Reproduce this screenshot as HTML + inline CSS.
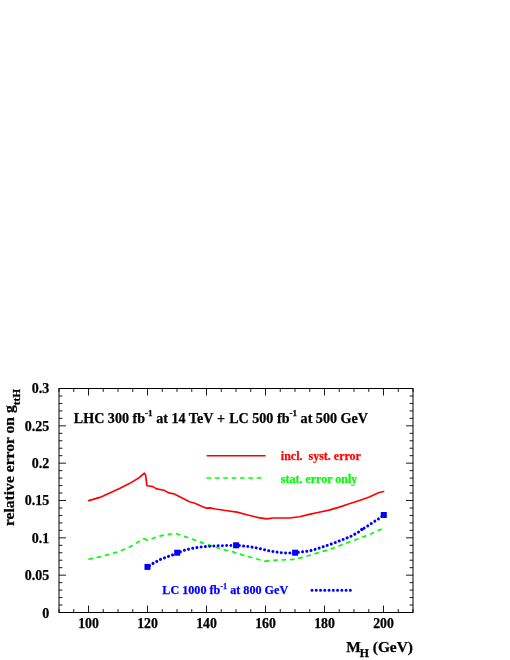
<!DOCTYPE html>
<html><head><meta charset="utf-8"><title>plot</title>
<style>
html,body{margin:0;padding:0;background:#fff;}
svg{display:block;will-change:transform;}
text{font-family:"Liberation Serif",serif;font-weight:bold;stroke:#000;stroke-width:0.25px;}
.t{font-size:13.8px;fill:#000;}
</style></head><body>
<svg width="510" height="660" viewBox="0 0 510 660">
<rect width="510" height="660" fill="#fff"/>
<rect x="59.0" y="388.5" width="354.0" height="224.0" fill="none" stroke="#000" stroke-width="1"/>
<path d="M59.00,612.5 v-3.4 M59.00,388.5 v3.4 M73.75,612.5 v-3.4 M73.75,388.5 v3.4 M88.50,612.5 v-7 M88.50,388.5 v7 M103.25,612.5 v-3.4 M103.25,388.5 v3.4 M118.00,612.5 v-3.4 M118.00,388.5 v3.4 M132.75,612.5 v-3.4 M132.75,388.5 v3.4 M147.50,612.5 v-7 M147.50,388.5 v7 M162.25,612.5 v-3.4 M162.25,388.5 v3.4 M177.00,612.5 v-3.4 M177.00,388.5 v3.4 M191.75,612.5 v-3.4 M191.75,388.5 v3.4 M206.50,612.5 v-7 M206.50,388.5 v7 M221.25,612.5 v-3.4 M221.25,388.5 v3.4 M236.00,612.5 v-3.4 M236.00,388.5 v3.4 M250.75,612.5 v-3.4 M250.75,388.5 v3.4 M265.50,612.5 v-7 M265.50,388.5 v7 M280.25,612.5 v-3.4 M280.25,388.5 v3.4 M295.00,612.5 v-3.4 M295.00,388.5 v3.4 M309.75,612.5 v-3.4 M309.75,388.5 v3.4 M324.50,612.5 v-7 M324.50,388.5 v7 M339.25,612.5 v-3.4 M339.25,388.5 v3.4 M354.00,612.5 v-3.4 M354.00,388.5 v3.4 M368.75,612.5 v-3.4 M368.75,388.5 v3.4 M383.50,612.5 v-7 M383.50,388.5 v7 M398.25,612.5 v-3.4 M398.25,388.5 v3.4 M413.00,612.5 v-3.4 M413.00,388.5 v3.4 M59.0,612.50 h7 M413.0,612.50 h-7 M59.0,605.03 h3.4 M413.0,605.03 h-3.4 M59.0,597.57 h3.4 M413.0,597.57 h-3.4 M59.0,590.10 h3.4 M413.0,590.10 h-3.4 M59.0,582.63 h3.4 M413.0,582.63 h-3.4 M59.0,575.17 h7 M413.0,575.17 h-7 M59.0,567.70 h3.4 M413.0,567.70 h-3.4 M59.0,560.23 h3.4 M413.0,560.23 h-3.4 M59.0,552.77 h3.4 M413.0,552.77 h-3.4 M59.0,545.30 h3.4 M413.0,545.30 h-3.4 M59.0,537.83 h7 M413.0,537.83 h-7 M59.0,530.37 h3.4 M413.0,530.37 h-3.4 M59.0,522.90 h3.4 M413.0,522.90 h-3.4 M59.0,515.43 h3.4 M413.0,515.43 h-3.4 M59.0,507.97 h3.4 M413.0,507.97 h-3.4 M59.0,500.50 h7 M413.0,500.50 h-7 M59.0,493.03 h3.4 M413.0,493.03 h-3.4 M59.0,485.57 h3.4 M413.0,485.57 h-3.4 M59.0,478.10 h3.4 M413.0,478.10 h-3.4 M59.0,470.63 h3.4 M413.0,470.63 h-3.4 M59.0,463.17 h7 M413.0,463.17 h-7 M59.0,455.70 h3.4 M413.0,455.70 h-3.4 M59.0,448.23 h3.4 M413.0,448.23 h-3.4 M59.0,440.77 h3.4 M413.0,440.77 h-3.4 M59.0,433.30 h3.4 M413.0,433.30 h-3.4 M59.0,425.83 h7 M413.0,425.83 h-7 M59.0,418.37 h3.4 M413.0,418.37 h-3.4 M59.0,410.90 h3.4 M413.0,410.90 h-3.4 M59.0,403.43 h3.4 M413.0,403.43 h-3.4 M59.0,395.97 h3.4 M413.0,395.97 h-3.4 M59.0,388.50 h7 M413.0,388.50 h-7" stroke="#000" stroke-width="0.9" fill="none"/>
<text x="88.5" y="627.5" text-anchor="middle" class="t">100</text>
<text x="147.5" y="627.5" text-anchor="middle" class="t">120</text>
<text x="206.5" y="627.5" text-anchor="middle" class="t">140</text>
<text x="265.5" y="627.5" text-anchor="middle" class="t">160</text>
<text x="324.5" y="627.5" text-anchor="middle" class="t">180</text>
<text x="383.5" y="627.5" text-anchor="middle" class="t">200</text>
<text x="49.3" y="617.5" text-anchor="end" class="t" style="font-size:14px">0</text>
<text x="49.3" y="579.5" text-anchor="end" class="t" style="font-size:14px">0.05</text>
<text x="49.3" y="542.6" text-anchor="end" class="t" style="font-size:14px">0.1</text>
<text x="49.3" y="505.3" text-anchor="end" class="t" style="font-size:14px">0.15</text>
<text x="49.3" y="468.0" text-anchor="end" class="t" style="font-size:14px">0.2</text>
<text x="49.3" y="431.1" text-anchor="end" class="t" style="font-size:14px">0.25</text>
<text x="49.3" y="393.1" text-anchor="end" class="t" style="font-size:14px">0.3</text>

<text x="346.2" y="652.3" style="font-size:15.4px">M<tspan dx="-1" dy="5.1" style="font-size:11.8px">H</tspan><tspan dy="-5.1"> (GeV)</tspan></text>
<text transform="translate(14.0,526.1) rotate(-90)" style="font-size:15.6px">relative error on g<tspan dy="5.8" style="font-size:11.4px">ttH</tspan></text>
<text x="73.8" y="422.8" style="font-size:14.1px">LHC 300 fb<tspan dy="-7" style="font-size:9.1px">-1</tspan><tspan dy="7"> at 14 TeV </tspan><tspan dx="0.4">+ </tspan><tspan dx="0.6">LC 500 fb</tspan><tspan dy="-7" style="font-size:9.1px">-1</tspan><tspan dy="7"> at 500 GeV</tspan></text>
<path d="M206.6,455.7 H265.6" stroke="#ff0000" stroke-width="1.65" fill="none"/>
<path d="M206.5,478.0 H262" stroke="#00ff00" stroke-width="1.65" stroke-dasharray="4.6 3.78" fill="none"/>
<text x="280.8" y="460.2" style="font-size:12px;fill:#ff0000;stroke:#ff0000" xml:space="preserve">incl.  syst. error</text>
<text x="280.8" y="482.6" style="font-size:12px;fill:#00ff00;stroke:#00ff00">stat. error only</text>
<path transform="translate(0.3,0.5)" d="M88.4,500.1 L99.6,496.9 L109.4,492.5 L119.2,488.0 L129.0,483.1 L138.8,477.2 L142.6,474.0 L144.1,472.7 L145.3,474.5 L146.6,485.2 L148.5,485.5 L152.7,486.1 L156.2,488.4 L163.7,489.8 L167.8,492.1 L174.0,493.5 L180.9,497.1 L189.1,501.2 L194.6,502.8 L200.1,505.3 L205.6,507.6 L209.7,507.4 L215.1,508.5 L226.9,510.2 L236.7,511.6 L248.4,514.7 L258.2,517.1 L266.5,518.4 L272.7,517.5 L289.4,517.5 L299.2,516.3 L309.0,513.9 L318.8,511.8 L328.6,509.6 L338.4,506.9 L348.2,503.5 L359.2,500.0 L369.0,496.5 L378.8,492.0 L383.3,491.0" stroke="#ff0000" stroke-width="1.65" fill="none" stroke-linejoin="round" stroke-linecap="round"/>
<g stroke="#00ff00" stroke-width="1.65" stroke-dasharray="4.6 3.8" fill="none" stroke-linejoin="round"><path d="M88.4,559.2 L99.6,556.9 L109.4,554.3 L119.2,551.4 L129.0,547.5 L138.8,541.6 L143.8,538.5"/><path d="M143.8,538.5 L147.8,540.4 L152.0,538.8 L158.4,536.3 L168.2,534.3 L176.5,533.7 L183.7,536.1 L193.5,539.6 L203.3,543.1 L213.1,546.5 L222.9,549.4 L232.7,551.8 L242.5,554.9 L252.4,557.7 L262.2,560.4 L264.9,561.4"/><path d="M264.9,561.4 L269.0,560.6 L279.6,560.1 L293.3,559.4 L303.1,557.3 L312.9,554.3 L322.7,551.4 L332.5,548.4 L343.7,544.1 L357.5,538.9 L371.2,533.8 L382.3,528.6"/></g>
<path d="M147.6,567.1 L152.5,563.7 L160.4,559.4 L168.2,556.5 L172.2,555.1 L177.1,553.0 L183.7,550.5 L191.6,548.5 L199.4,547.1 L209.2,546.2 L219.0,545.7 L228.8,545.5 L236.2,545.3 L248.4,546.5 L258.2,548.2 L269.8,551.0 L279.6,552.5 L287.5,553.1 L295.2,552.7 L305.1,551.5 L310.8,550.6 L318.6,548.3 L326.5,545.7 L334.6,542.8 L342.6,539.7 L350.3,536.6 L354.2,534.5 L357.8,532.6 L361.8,529.4" stroke="#0000ff" stroke-width="3.0" stroke-dasharray="0.01 4.25" stroke-dashoffset="-2.3" stroke-linecap="round" fill="none" stroke-linejoin="round"/>
<path d="M364.1,528.2 L366.5,526.7 L374.3,521.5 L378.2,519.1 L383.7,515.0" stroke="#0000ff" stroke-width="3.0" stroke-dasharray="0.01 4.25" stroke-linecap="round" fill="none" stroke-linejoin="round"/>
<circle cx="361.8" cy="529.4" r="1.5" fill="#0000ff"/>
<rect x="144.5" y="563.9" width="6" height="6" fill="#0000ff"/><rect x="174.2" y="549.7" width="6" height="6" fill="#0000ff"/><rect x="233.1" y="542.3" width="6" height="6" fill="#0000ff"/><rect x="292.1" y="549.7" width="6" height="6" fill="#0000ff"/><rect x="380.8" y="512.0" width="6" height="6" fill="#0000ff"/>
<text x="162.3" y="594.1" style="font-size:12.15px;fill:#0000ff;stroke:#0000ff">LC 1000 fb<tspan dy="-5.6" style="font-size:8.2px">-1</tspan><tspan dy="5.6"> at 800 GeV</tspan></text>
<path d="M312,590.35 H350.6" stroke="#0000ff" stroke-width="3.0" stroke-dasharray="0.01 4.25" stroke-linecap="round" fill="none"/>
</svg>
</body></html>
